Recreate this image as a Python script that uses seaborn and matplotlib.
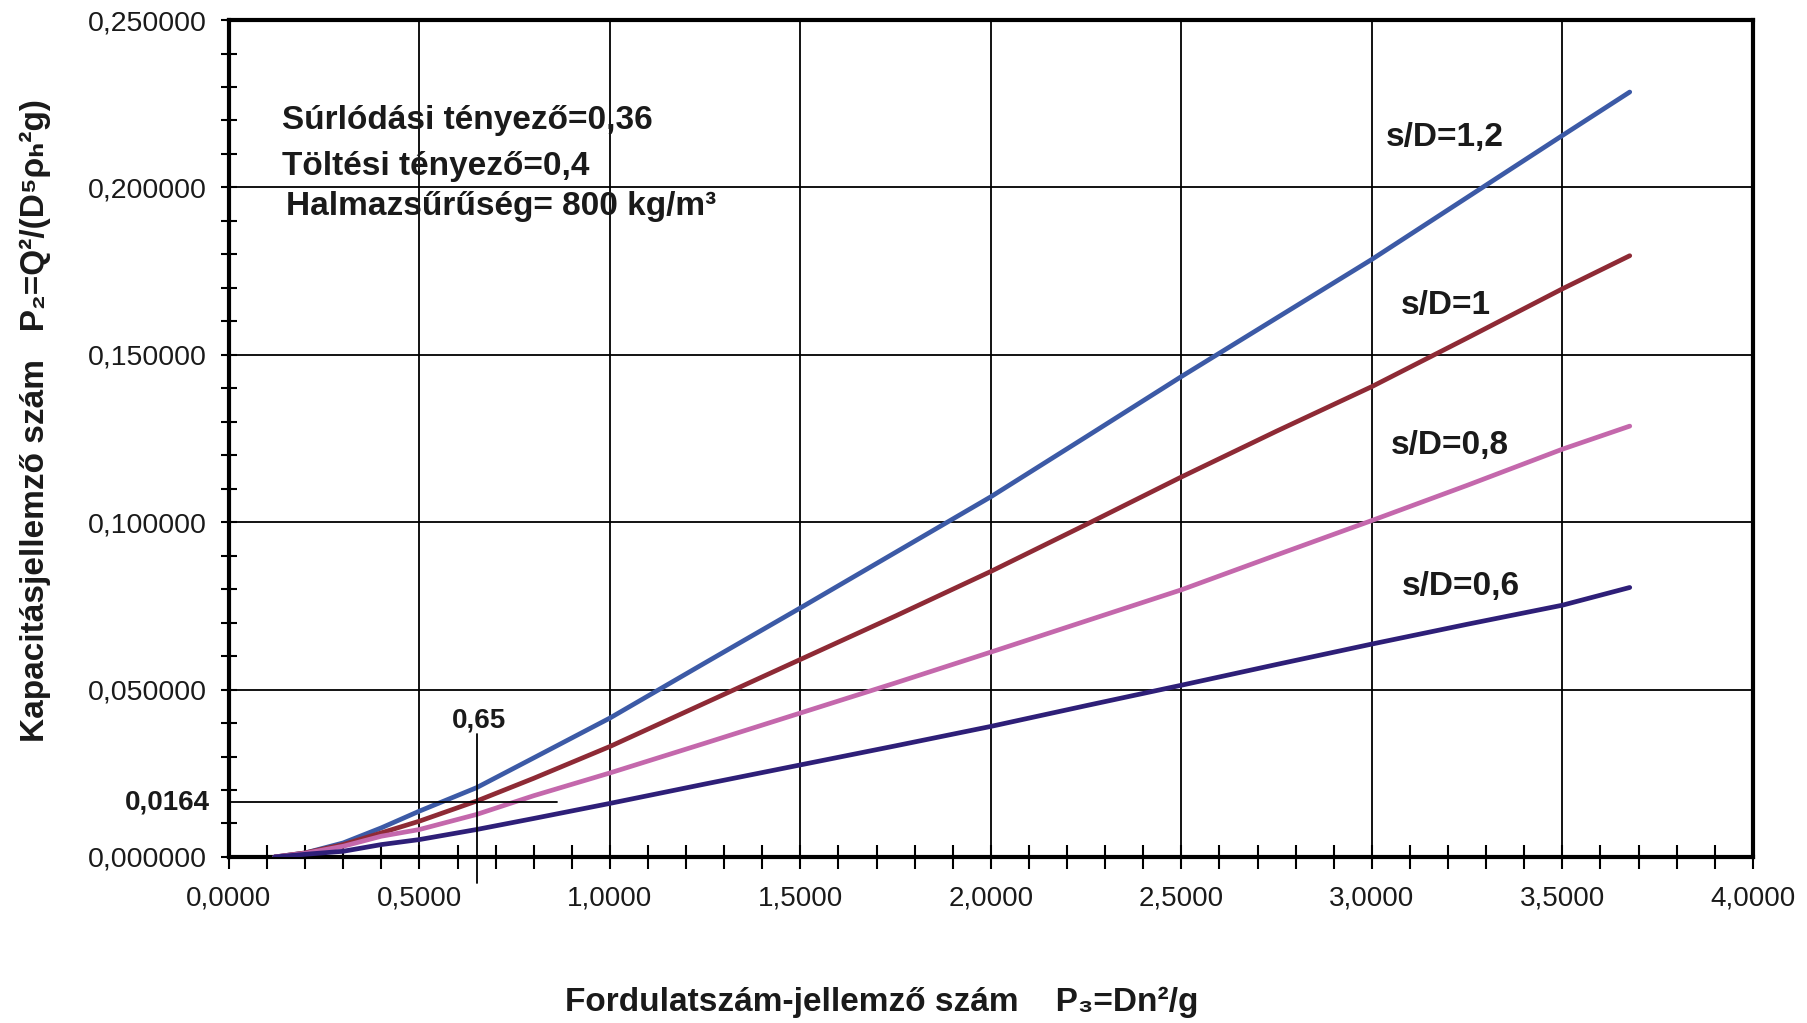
import matplotlib
matplotlib.use('Agg')
import pandas as pd
import matplotlib.pyplot as plt
import matplotlib.transforms as mtransforms
from matplotlib.ticker import MultipleLocator, FuncFormatter
import seaborn as sns

# --- data ---
p3 = [0.12, 0.2, 0.3, 0.4, 0.5, 0.65, 0.8, 1.0, 1.25, 1.5, 1.75, 2.0,
      2.25, 2.5, 2.75, 3.0, 3.25, 3.5, 3.677]
p2_12 = [0, 0.0012, 0.0042, 0.0087, 0.0137, 0.0207, 0.0296, 0.0415, 0.058, 0.0744,
         0.091, 0.1076, 0.1255, 0.1435, 0.161, 0.1785, 0.197, 0.2155, 0.2285]
p2_10 = [0, 0.0012, 0.0037, 0.0072, 0.0107, 0.0167, 0.0235, 0.033, 0.046, 0.059,
         0.072, 0.0853, 0.0993, 0.1135, 0.1272, 0.1405, 0.155, 0.1697, 0.1796]
p2_08 = [0, 0.0011, 0.0032, 0.0062, 0.0082, 0.0127, 0.0183, 0.0251, 0.034, 0.043,
         0.052, 0.0612, 0.0705, 0.0798, 0.0902, 0.1005, 0.111, 0.1218, 0.1287]
p2_06 = [0, 0.0008, 0.0017, 0.0037, 0.0052, 0.0082, 0.0115, 0.016, 0.0218, 0.0275,
         0.0332, 0.039, 0.0452, 0.0513, 0.0575, 0.0636, 0.0695, 0.0752, 0.0805]

series = ['s/D=1,2', 's/D=1', 's/D=0,8', 's/D=0,6']
colors = ['#3C5AA6', '#8E2A35', '#C468AC', '#2E1F78']
label_x = [3.037, 3.076, 3.05, 3.08]
label_y = [0.2149, 0.1646, 0.1229, 0.0809]

info_lines = ['Súrlódási tényező=0,36', 'Töltési tényező=0,4', 'Halmazsűrűség= 800 kg/m³']
info_x = [0.138, 0.139, 0.151]
info_y = [0.2201, 0.2062, 0.1942]

mark_x = 0.65
mark_y = 0.0164

df = pd.concat([
    pd.DataFrame({'P3': p3, 'P2': vals, 'sD': name})
    for name, vals in zip(series, [p2_12, p2_10, p2_08, p2_06])
])

sns.set_theme(style='white')
plt.rcParams['font.family'] = ['Liberation Sans', 'DejaVu Sans']

fig = plt.figure(figsize=(18.07, 10.23), dpi=100)
ax = fig.add_axes([0.1267, 0.1623, 0.8433, 0.8181])

sns.lineplot(data=df, x='P3', y='P2', hue='sD', palette=dict(zip(series, colors)),
             linewidth=3.4, legend=False, ax=ax, zorder=3)

ax.set_xlim(0, 4)
ax.set_ylim(0, 0.25)
ax.xaxis.set_major_locator(MultipleLocator(0.5))
ax.xaxis.set_minor_locator(MultipleLocator(0.1))
ax.yaxis.set_major_locator(MultipleLocator(0.05))
ax.yaxis.set_minor_locator(MultipleLocator(0.01))
ax.xaxis.set_major_formatter(FuncFormatter(lambda v, p: f'{v:.4f}'.replace('.', ',')))
ax.yaxis.set_major_formatter(FuncFormatter(lambda v, p: f'{v:.6f}'.replace('.', ',')))
ax.grid(True, which='major', color='black', linewidth=1.3)
ax.set_xlabel('')
ax.set_ylabel('')

for sp in ax.spines.values():
    sp.set_visible(True)
    sp.set_color('black')
    sp.set_linewidth(3)

ax.tick_params(axis='x', which='both', direction='inout', length=17, width=1.5,
               colors='black', pad=12, labelsize=20, bottom=True)
ax.tick_params(axis='y', which='both', direction='inout', length=12, width=1.5,
               colors='black', pad=10, labelsize=20.5, left=True)
for lbl in ax.get_xticklabels() + ax.get_yticklabels():
    lbl.set_color('#1a1a1a')

# curve labels
for name, lx, ly in zip(series, label_x, label_y):
    ax.text(lx, ly, name, fontsize=24, fontweight='bold', ha='left', va='center',
            color='#1a1a1a')

# parameter block
for t, tx, ty in zip(info_lines, info_x, info_y):
    ax.text(tx, ty, t, fontsize=24, fontweight='bold', ha='left', va='center',
            color='#1a1a1a')

# reading lines for the 0,65 -> 0,0164 example
ax.plot([0, 0.86], [mark_y, mark_y], color='black', lw=1.3, zorder=4)
ax.plot([mark_x, mark_x], [-0.0078, 0.0367], color='black', lw=1.3, zorder=4, clip_on=False)
ax.text(mark_x + 0.007, 0.0407, '0,65', fontsize=20, fontweight='bold',
        ha='center', va='center', color='#1a1a1a')
trans = mtransforms.blended_transform_factory(ax.transAxes, ax.transData)
ax.text(-0.0125, mark_y, '0,0164', transform=trans, fontsize=20, fontweight='bold',
        ha='right', va='center', color='#1a1a1a')

fig.text(0.0194, 0.589, 'Kapacitásjellemző szám   P₂=Q²/(D⁵ρₕ²g)',
         rotation=90, fontsize=24, fontweight='bold', ha='center', va='center',
         color='#1a1a1a')
fig.text(0.488, 0.0205, 'Fordulatszám-jellemző szám    P₃=Dn²/g',
         fontsize=24, fontweight='bold', ha='center', va='center', color='#1a1a1a')

fig.savefig('out.png', dpi=100, facecolor='white')
